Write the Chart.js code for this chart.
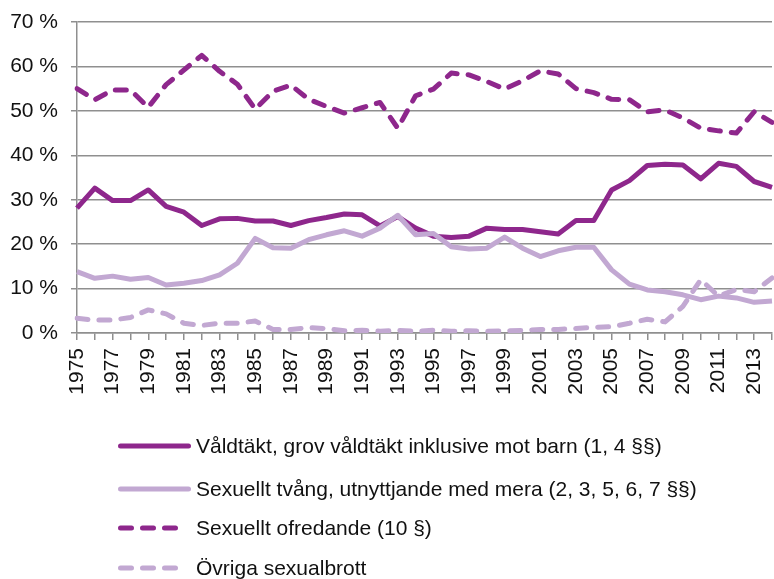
<!DOCTYPE html>
<html>
<head>
<meta charset="utf-8">
<script src="https://cdn.jsdelivr.net/npm/chart.js@4/dist/chart.umd.min.js"></script>
<style>
html,body{margin:0;padding:0;background:#fff;}
#wrap{width:774px;height:579px;position:relative;}
</style>
</head>
<body>
<div id="wrap"><canvas id="c" width="774" height="579"></canvas></div>
<script>
const years = ['1975','1976','1977','1978','1979','1980','1981','1982','1983','1984',
  '1985','1986','1987','1988','1989','1990','1991','1992','1993','1994',
  '1995','1996','1997','1998','1999','2000','2001','2002','2003','2004',
  '2005','2006','2007','2008','2009','2010','2011','2012','2013','2014'];

const yTickLabels = ['0 %','10 %','20 %','30 %','40 %','50 %','60 %','70 %'];

const seriesNames = [
  'Våldtäkt, grov våldtäkt inklusive mot barn (1, 4 §§)',
  'Sexuellt tvång, utnyttjande med mera (2, 3, 5, 6, 7 §§)',
  'Sexuellt ofredande (10 §)',
  'Övriga sexualbrott'
];

const rape = [28.1, 32.6, 29.8, 29.8, 32.2, 28.5, 27.2, 24.2, 25.7, 25.8,
  25.2, 25.2, 24.2, 25.3, 26.0, 26.8, 26.6, 24.1, 26.2, 23.6,
  21.8, 21.5, 21.8, 23.6, 23.3, 23.3, 22.8, 22.3, 25.3, 25.3,
  32.2, 34.3, 37.7, 38.0, 37.8, 34.7, 38.2, 37.5, 34.1, 32.8];

const coercion = [13.8, 12.3, 12.8, 12.1, 12.5, 10.8, 11.2, 11.8, 13.1, 15.7,
  21.3, 19.2, 19.1, 21.0, 22.1, 23.0, 21.8, 23.6, 26.5, 22.1,
  22.4, 19.4, 18.9, 19.1, 21.6, 19.1, 17.2, 18.5, 19.3, 19.3,
  14.2, 11.0, 9.7, 9.3, 8.6, 7.5, 8.3, 7.9, 6.9, 7.2];

const harassment = [55.0, 52.5, 54.7, 54.7, 50.8, 55.9, 59.2, 62.5, 58.9, 56.0,
  50.4, 54.4, 55.8, 52.6, 51.0, 49.5, 50.7, 51.9, 46.1, 53.4,
  54.9, 58.5, 58.1, 56.6, 54.9, 56.8, 59.0, 58.3, 55.0, 54.1,
  52.6, 52.5, 49.8, 50.2, 48.4, 46.1, 45.5, 45.0, 49.8, 47.4];

const other = [3.3, 2.9, 2.9, 3.5, 5.2, 4.3, 2.2, 1.7, 2.2, 2.2,
  2.7, 0.8, 0.8, 1.2, 1.0, 0.5, 0.6, 0.4, 0.6, 0.4,
  0.6, 0.4, 0.5, 0.4, 0.5, 0.6, 0.8, 0.8, 1.0, 1.3,
  1.4, 2.2, 3.1, 2.5, 6.0, 12.0, 8.3, 9.8, 9.3, 12.4];

const DARK = '#8e278c';
const LIGHT = '#c2a8d2';
const GRID = '#8f8f8f';
const FONT = '"Liberation Sans", Arial, Helvetica, sans-serif';
const DASH = [11, 11];

const rowLegend = {
  id: 'rowLegend',
  afterDraw(chart) {
    const ctx = chart.ctx;
    const rows = [446, 489, 528, 568];
    chart.data.datasets.forEach((ds, i) => {
      const y = rows[i];
      ctx.save();
      ctx.strokeStyle = ds.borderColor;
      ctx.lineWidth = 5;
      ctx.lineCap = 'round';
      ctx.setLineDash(ds.borderDash || []);
      ctx.beginPath();
      ctx.moveTo(120.5, y);
      ctx.lineTo(ds.borderDash ? 177 : 188.5, y);
      ctx.stroke();
      ctx.setLineDash([]);
      ctx.fillStyle = '#111';
      ctx.font = '21px ' + FONT;
      ctx.textBaseline = 'middle';
      ctx.fillText(ds.label, 196, y + 1);
      ctx.restore();
    });
  }
};

new Chart(document.getElementById('c'), {
  type: 'line',
  data: {
    labels: years,
    datasets: [
      { label: seriesNames[0], data: rape, borderColor: DARK, borderWidth: 5, order: 4 },
      { label: seriesNames[1], data: coercion, borderColor: LIGHT, borderWidth: 5, order: 3 },
      { label: seriesNames[2], data: harassment, borderColor: DARK, borderWidth: 5, borderDash: DASH, borderCapStyle: 'round', order: 2 },
      { label: seriesNames[3], data: other, borderColor: LIGHT, borderWidth: 5, borderDash: DASH, borderCapStyle: 'round', order: 1 }
    ]
  },
  options: {
    responsive: false,
    animation: false,
    events: [],
    layout: { padding: { top: 22, right: 2, left: 0, bottom: 0 } },
    elements: {
      point: { radius: 0 },
      line: { tension: 0, borderJoinStyle: 'round', fill: false }
    },
    plugins: { legend: { display: false }, tooltip: { enabled: false } },
    scales: {
      x: {
        offset: false,
        afterFit(s) { s.height = 246; s.paddingLeft = 0; s.paddingRight = 0; },
        grid: { display: true, drawOnChartArea: false, drawTicks: true, tickLength: 7, color: GRID, lineWidth: 1.5 },
        border: { display: true, color: GRID, width: 1.5 },
        ticks: {
          autoSkip: false, minRotation: 90, maxRotation: 90, padding: 8,
          color: '#111', font: { family: FONT, size: 21 },
          callback: (v, i) => (i % 2 === 0 ? years[i] : '')
        }
      },
      y: {
        min: 0, max: 70,
        afterFit(s) { s.width = 77; s.paddingTop = 0; s.paddingBottom = 0; },
        grid: { color: GRID, lineWidth: 1.5, tickLength: 6 },
        border: { display: true, color: GRID, width: 1.5 },
        ticks: {
          stepSize: 10, padding: 13,
          color: '#111', font: { family: FONT, size: 21 },
          callback: (v, i) => yTickLabels[i]
        }
      }
    }
  },
  plugins: [rowLegend]
});
</script>
</body>
</html>
